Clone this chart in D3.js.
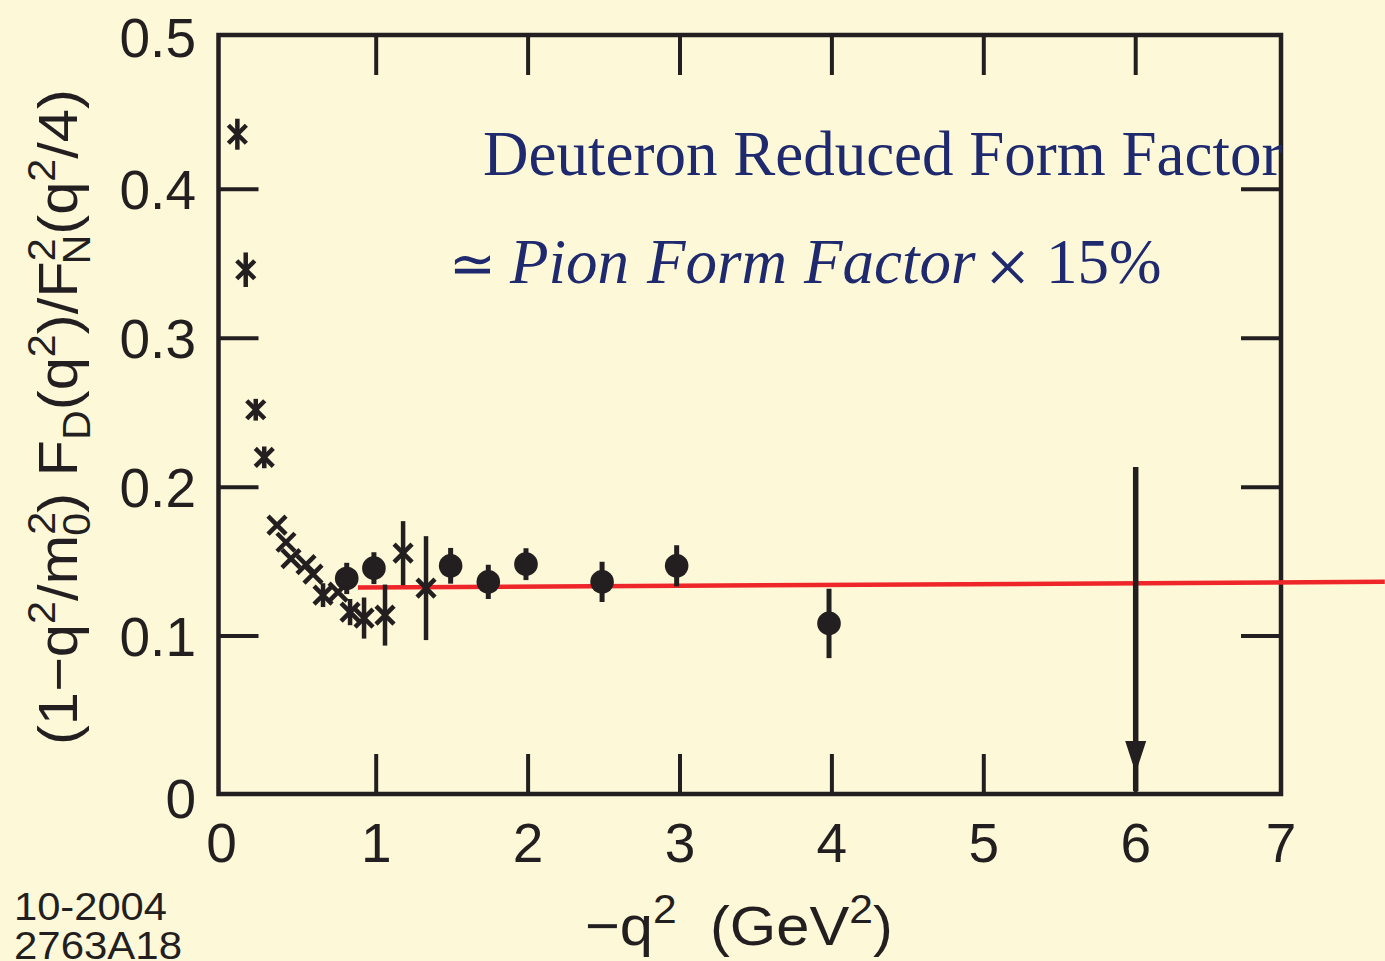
<!DOCTYPE html>
<html>
<head>
<meta charset="utf-8">
<script src="https://cdn.jsdelivr.net/npm/d3@7"></script>
<style>
  html, body { margin: 0; padding: 0; background: #fdf9d8; }
  svg { display: block; }
</style>
</head>
<body>
<svg id="chart" width="1385" height="961"></svg>
<script>
// Low-q2 points (crosses, some with vertical error bars)
const lowQx   = [0.086, 0.141, 0.207, 0.263, 0.347, 0.406, 0.439, 0.538, 0.584, 0.650, 0.749, 0.828, 0.920, 1.058, 1.177, 1.328];
const lowQy   = [0.437, 0.346, 0.252, 0.220, 0.1745, 0.163, 0.152, 0.148, 0.1416, 0.1275, 0.1295, 0.1161, 0.1121, 0.1141, 0.1557, 0.1322];
const lowQerr = [0.0104, 0.0116, 0.0073, 0.0073, 0, 0, 0, 0, 0, 0.008, 0, 0.0088, 0.0138, 0.0205, 0.0215, 0.0349];

// Higher-q2 points (filled circles with error bars)
const highQx   = [0.806, 0.985, 1.490, 1.738, 1.986, 2.487, 2.978, 3.981];
const highQy   = [0.1387, 0.1456, 0.1472, 0.1364, 0.1483, 0.1364, 0.1472, 0.1085];
const highQerr = [0.0105, 0.0107, 0.0120, 0.0115, 0.0107, 0.0135, 0.0138, 0.0233];

// Constant fit line
const fitX = [0.88, 7.64];
const fitY = [0.1326, 0.1364];

// Arrow marking q2 = 6 GeV2
const arrowX = 6.0;
const arrowY = [0.2136, 0.0];

// Tick values
const xTicks = [0, 1, 2, 3, 4, 5, 6, 7];
const yTicks = [0, 0.1, 0.2, 0.3, 0.4, 0.5];
const yTickLabels = ["0", "0.1", "0.2", "0.3", "0.4", "0.5"];

const ink = "#231f20";
const navy = "#1f2a6e";
const sans = "'Liberation Sans', Arial, Helvetica, sans-serif";
const serif = "'Liberation Serif', 'Times New Roman', serif";

const svg = d3.select("#chart");

// Plot frame
const frame = { left: 218.5, right: 1281, top: 35, bottom: 794 };

const x = d3.scaleLinear().domain([0, 7]).range([224.3, 1287.6]);
const y = d3.scaleLinear().domain([0, 0.5]).range([785, 40.4]);

const tickLen = 40;

// Frame box
svg.append("rect")
  .attr("x", frame.left).attr("y", frame.top)
  .attr("width", frame.right - frame.left)
  .attr("height", frame.bottom - frame.top)
  .attr("fill", "none").attr("stroke", ink).attr("stroke-width", 4.5);

// Inner ticks on all four sides
const innerX = xTicks.filter(v => v > 0 && v < 7);
const innerY = yTicks.filter(v => v > 0 && v < 0.5);
const tg = svg.append("g").attr("stroke", ink).attr("stroke-width", 4);
innerX.forEach(v => {
  tg.append("line").attr("x1", x(v)).attr("x2", x(v)).attr("y1", frame.bottom).attr("y2", frame.bottom - tickLen);
  tg.append("line").attr("x1", x(v)).attr("x2", x(v)).attr("y1", frame.top).attr("y2", frame.top + tickLen);
});
innerY.forEach(v => {
  tg.append("line").attr("x1", frame.left).attr("x2", frame.left + tickLen).attr("y1", y(v)).attr("y2", y(v));
  tg.append("line").attr("x1", frame.right).attr("x2", frame.right - tickLen).attr("y1", y(v)).attr("y2", y(v));
});

// Tick labels; end labels sit at the frame corners
const xLabelPos = v => v === 0 ? frame.left + 3 : (v === 7 ? frame.right : x(v));
svg.append("g").selectAll("text").data(xTicks).join("text")
  .attr("x", v => xLabelPos(v)).attr("y", 862)
  .attr("text-anchor", "middle")
  .attr("font-family", sans).attr("font-size", 55).attr("fill", ink)
  .text(v => v);

const yLabelPos = v => v === 0 ? frame.bottom + 4 : (v === 0.5 ? frame.top + 2 : y(v));
svg.append("g").selectAll("text").data(yTicks).join("text")
  .attr("x", 196).attr("y", v => yLabelPos(v))
  .attr("dy", "0.36em")
  .attr("text-anchor", "end")
  .attr("font-family", sans).attr("font-size", 55).attr("fill", ink)
  .text((v, i) => yTickLabels[i]);

// Fit line
svg.append("line")
  .attr("x1", x(fitX[0])).attr("y1", y(fitY[0]))
  .attr("x2", x(fitX[1])).attr("y2", y(fitY[1]))
  .attr("stroke", "#ee2529").attr("stroke-width", 4.5);

// Low-q2 data
const lowQ = lowQx.map((v, i) => ({ x: v, y: lowQy[i], e: lowQerr[i] }));
const gl = svg.append("g").attr("stroke", ink).attr("fill", "none");
lowQ.forEach(d => {
  const cx = x(d.x), cy = y(d.y), s = 9;
  if (d.e > 0) {
    gl.append("line").attr("x1", cx).attr("x2", cx)
      .attr("y1", y(d.y + d.e)).attr("y2", y(d.y - d.e))
      .attr("stroke-width", 4.5);
  }
  gl.append("path")
    .attr("d", `M${cx - s},${cy - s}L${cx + s},${cy + s}M${cx - s},${cy + s}L${cx + s},${cy - s}`)
    .attr("stroke-width", 4.5);
});

// High-q2 data
const highQ = highQx.map((v, i) => ({ x: v, y: highQy[i], e: highQerr[i] }));
const gh = svg.append("g");
highQ.forEach(d => {
  gh.append("line").attr("x1", x(d.x)).attr("x2", x(d.x))
    .attr("y1", y(d.y + d.e)).attr("y2", y(d.y - d.e))
    .attr("stroke", ink).attr("stroke-width", 5);
  gh.append("circle").attr("cx", x(d.x)).attr("cy", y(d.y)).attr("r", 11.8).attr("fill", ink);
});

// Arrow at q2 = 6
const ax = x(arrowX);
svg.append("line")
  .attr("x1", ax).attr("x2", ax)
  .attr("y1", y(arrowY[0])).attr("y2", y(arrowY[1]) + 6)
  .attr("stroke", ink).attr("stroke-width", 5.5);
const tipY = y(arrowY[1]) - 12;
svg.append("path")
  .attr("d", `M${ax - 10.5},${tipY - 32}L${ax + 10.5},${tipY - 32}L${ax},${tipY}Z`)
  .attr("fill", ink);

// Annotation
svg.append("text")
  .attr("x", 483).attr("y", 175)
  .attr("font-family", serif).attr("font-size", 63).attr("fill", navy)
  .text("Deuteron Reduced Form Factor");

const t2 = svg.append("text")
  .attr("font-family", serif).attr("font-size", 63).attr("fill", navy);
t2.append("tspan").attr("x", 449).attr("y", 283).attr("font-size", 56).text("\u2243");
t2.append("tspan").attr("x", 510).attr("y", 283).attr("font-style", "italic").text("Pion");
t2.append("tspan").attr("x", 647).attr("y", 283).attr("font-style", "italic").text("Form");
t2.append("tspan").attr("x", 804).attr("y", 283).attr("font-style", "italic").text("Factor");
t2.append("tspan").attr("x", 985).attr("y", 294).attr("font-size", 80).text("\u00d7");
t2.append("tspan").attr("x", 1046).attr("y", 283).text("15%");

// Builds a text with super/subscripts from segments {t, s: shift, dx}
function richText(sel, segs, mainSize, scriptSize) {
  let cur = 0;
  segs.forEach(seg => {
    const shift = seg.s || 0;
    const ts = sel.append("tspan")
      .attr("dy", shift - cur)
      .attr("font-size", shift !== 0 ? scriptSize : mainSize)
      .text(seg.t);
    if (seg.dx) ts.attr("dx", seg.dx);
    cur = shift;
  });
}

// X axis title
const xt = svg.append("text")
  .attr("x", 0).attr("y", 0)
  .attr("font-family", sans).attr("font-size", 56).attr("fill", ink)
  .attr("xml:space", "preserve");
richText(xt, [
  { t: "\u2212q" }, { t: "2", s: -22 }, { t: "  (GeV" }, { t: "2", s: -22 }, { t: ")" }
], 56, 40);
{
  const len = xt.node().getComputedTextLength();
  const k = 308 / len;
  xt.attr("transform", `translate(585,945) scale(${k},1)`);
}

// Y axis title (rotated)
const yt = svg.append("text")
  .attr("x", 0).attr("y", 0)
  .attr("font-family", sans).attr("font-size", 55).attr("fill", ink)
  .attr("xml:space", "preserve");
richText(yt, [
  { t: "(1\u2212q" }, { t: "2", s: -22 }, { t: "/m" },
  { t: "2", s: -22 }, { t: "0", s: 13, dx: -22 },
  { t: ") F" }, { t: "D", s: 13 }, { t: "(q" }, { t: "2", s: -22 },
  { t: ")/F" }, { t: "2", s: -22 }, { t: "N", s: 13, dx: -24 },
  { t: "(q" }, { t: "2", s: -22 }, { t: "/4)" }
], 55, 38);
{
  const len = yt.node().getComputedTextLength();
  const k = 706 / len;
  yt.attr("transform", `translate(77,745) rotate(-90) scale(${k},1)`);
}

// Figure code, fitted to its printed width
function fittedLabel(txt, px, py, width) {
  const t = svg.append("text").attr("x", 0).attr("y", 0)
    .attr("font-family", sans).attr("font-size", 39).attr("fill", ink)
    .text(txt);
  const k = width / t.node().getComputedTextLength();
  t.attr("transform", `translate(${px},${py}) scale(${k},1)`);
}
fittedLabel("10-2004", 14, 920, 153);
fittedLabel("2763A18", 14, 959, 168);
</script>
</body>
</html>
